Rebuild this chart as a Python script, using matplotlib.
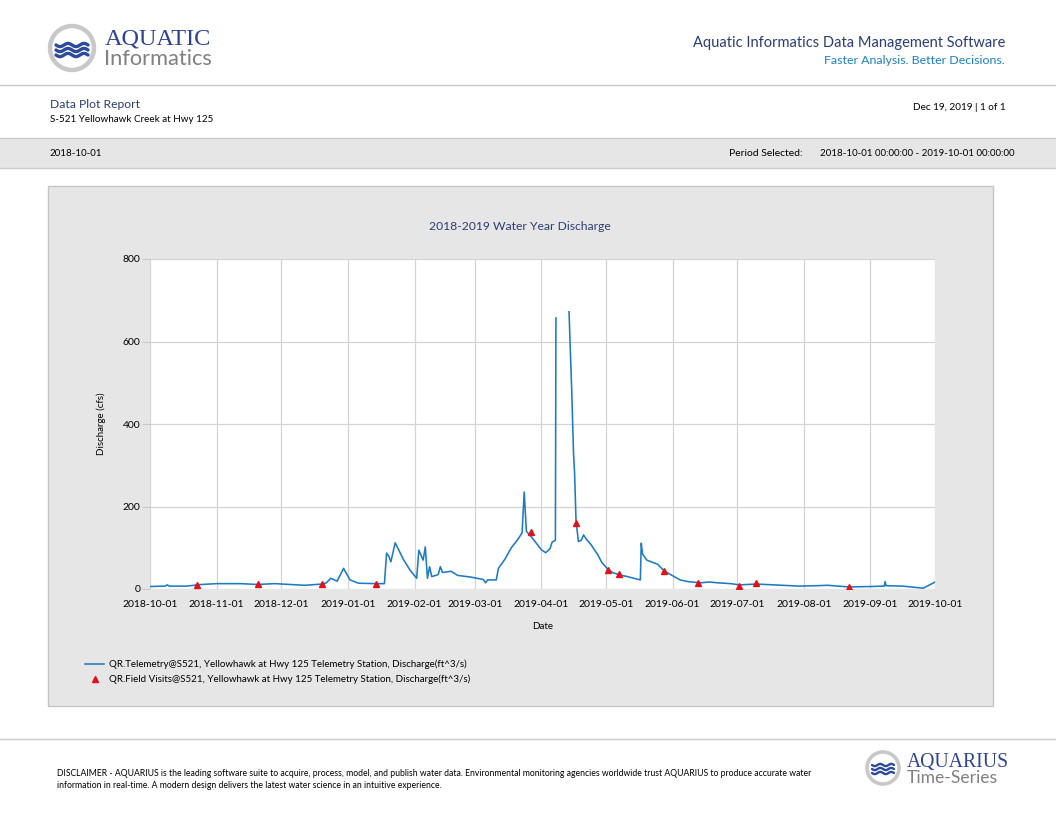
import numpy as np
import pandas as pd
import matplotlib
matplotlib.use('Agg')
import matplotlib.pyplot as plt
import matplotlib.dates as mdates
from matplotlib.patches import Rectangle, Circle

W, H = 1056, 816
SANS = 'Lato'
SERIF = 'Liberation Serif'
NAVY = '#2b3d73'

# QR.Telemetry discharge (cfs); None = gap in record
flow_time = ['2018-10-01', '2018-10-08', '2018-10-09', '2018-10-10', '2018-10-18',
             '2018-10-25', '2018-11-01', '2018-11-12', '2018-11-20', '2018-11-28',
             '2018-12-05', '2018-12-12', '2018-12-20', '2018-12-22', '2018-12-24',
             '2018-12-27', '2018-12-30', '2019-01-02', '2019-01-06', '2019-01-14',
             '2019-01-18', '2019-01-19', '2019-01-20', '2019-01-21', '2019-01-23',
             '2019-01-27', '2019-01-30', '2019-02-02', '2019-02-03', '2019-02-05',
             '2019-02-06', '2019-02-07', '2019-02-08', '2019-02-09', '2019-02-12',
             '2019-02-13', '2019-02-14', '2019-02-18', '2019-02-21', '2019-02-27',
             '2019-03-05', '2019-03-06', '2019-03-07', '2019-03-11', '2019-03-12',
             '2019-03-15', '2019-03-18', '2019-03-21', '2019-03-23', '2019-03-24',
             '2019-03-25', '2019-03-28', '2019-04-01', '2019-04-03', '2019-04-05',
             '2019-04-06', '2019-04-07 12:00', '2019-04-07 18:00', '2019-04-10',
             '2019-04-13 20:00', '2019-04-15 02:00', '2019-04-15 22:00', '2019-04-16 10:00',
             '2019-04-17 02:00', '2019-04-17 14:00', '2019-04-18 05:00', '2019-04-19 12:00',
             '2019-04-20 14:00', '2019-04-22', '2019-04-24', '2019-04-26', '2019-04-27',
             '2019-04-29', '2019-05-02', '2019-05-04', '2019-05-07 14:00', '2019-05-11',
             '2019-05-15 12:00', '2019-05-17', '2019-05-17 10:00', '2019-05-18', '2019-05-20',
             '2019-05-22', '2019-05-25', '2019-05-26', '2019-05-28', '2019-05-31',
             '2019-06-04 12:00', '2019-06-08', '2019-06-14', '2019-06-18', '2019-06-22',
             '2019-06-28', '2019-07-02', '2019-07-10', '2019-07-18', '2019-07-30',
             '2019-08-07', '2019-08-12', '2019-08-22', '2019-09-01', '2019-09-07 10:00',
             '2019-09-07 20:00', '2019-09-08 06:00', '2019-09-16', '2019-09-25 12:00',
             '2019-09-30', '2019-10-01']
flow_cfs = [6, 7, 10, 7, 7,
            11, 13, 13, 11, 13,
            11, 9, 12, 15, 26,
            19, 50, 22, 14, 13,
            13, 87, 80, 66, 112,
            70, 45, 26, 94, 70,
            102, 26, 54, 30, 35,
            54, 40, 43, 33, 29,
            23, 15, 22, 22, 50,
            72, 100, 120, 136, 235,
            140, 122, 95, 88, 98,
            114, 118, 657, None,
            672, 482, 330, 281,
            167, 143, 115, 118,
            131, 120, 108, 92, 85,
            65, 47, 40, 34, 30,
            24, 22, 111, 85, 70,
            66, 60, 55, 44, 35,
            22, 18, 15, 17, 15,
            13, 10, 12, 10, 7,
            8, 9, 5, 6, 7,
            18, 8, 7, 2,
            14, 17]

# QR.Field Visits measurements
visit_time = ['2018-10-23', '2018-11-20', '2018-12-20', '2019-01-14', '2019-03-27',
              '2019-04-17', '2019-05-02', '2019-05-07', '2019-05-28', '2019-06-13',
              '2019-07-02', '2019-07-10', '2019-08-22']
visit_cfs = [10, 11, 13, 12, 138, 160, 46, 36, 44, 15, 8, 14, 4]

yticks = [0, 200, 400, 600, 800]

fig = plt.figure(figsize=(W / 100, H / 100), dpi=100)
fig.patch.set_facecolor('white')

# overlay axes in pixel coordinates (y downwards) for the report decoration
deco = fig.add_axes([0, 0, 1, 1])
deco.set_xlim(0, W)
deco.set_ylim(H, 0)
deco.axis('off')

rend = fig.canvas.get_renderer()


def txt(x, y, s, size, color='black', ha='left', family=SANS, width=None, **kw):
    t = deco.text(x, y, s, fontsize=size, color=color, ha=ha, va='baseline',
                  family=family, **kw)
    if width:
        w = t.get_window_extent(rend).width
        t.set_fontsize(size * width / w)
    return t


# --- header
deco.add_patch(Circle((72, 48), 22, facecolor='white', edgecolor='#c8c8c8', lw=3.2))
for yc in [45, 50, 55]:
    xs = np.linspace(56, 88, 60)
    deco.plot(xs, yc + 1.6 * np.sin((xs - 56) / 32 * 4 * np.pi), color='#2c4a9a', lw=2.4,
              solid_capstyle='round')
txt(105, 45, 'AQUATIC', 17, color='#2f4395', family=SERIF, width=107)
txt(104, 65, 'Informatics', 13, color='#808080', width=108)
txt(1005, 47, 'Aquatic Informatics Data Management Software', 11, color=NAVY, ha='right', width=311)
txt(1005, 64, 'Faster Analysis. Better Decisions.', 8.5, color='#1e7fbf', ha='right', width=181)
deco.plot([0, W], [84.5, 84.5], color='#c8c8c8', lw=1)

txt(50, 108, 'Data Plot Report', 8.5, color=NAVY, width=90)
txt(50, 122, 'S-521 Yellowhawk Creek at Hwy 125', 7, width=164)
txt(1006, 110, 'Dec 19, 2019 | 1 of 1', 7, ha='right', width=94)

deco.add_patch(Rectangle((0, 138), W, 30, facecolor='#e6e6e6', edgecolor='none'))
deco.plot([0, W], [138, 138], color='#cccccc', lw=1)
deco.plot([0, W], [168, 168], color='#cccccc', lw=1)
txt(50, 156, '2018-10-01', 7, width=53)
txt(803, 156, 'Period Selected:', 7, ha='right', width=74)
txt(1015, 156, '2018-10-01 00:00:00 - 2019-10-01 00:00:00', 7, ha='right', width=196)

# --- chart panel
deco.add_patch(Rectangle((48, 186), 945, 520, facecolor='#e6e6e6', edgecolor='#c4c4c4', lw=1))
txt(520, 230, '2018-2019 Water Year Discharge', 8.5, color=NAVY, ha='center', width=181)

ax = fig.add_axes([150 / W, 1 - 589 / H, 785 / W, 330 / H])
ax.set_facecolor('white')
ft = pd.to_datetime(flow_time, format='mixed')
fv = np.array([np.nan if v is None else v for v in flow_cfs], dtype=float)
ax.plot(ft, fv, color='#1f7bc0', lw=1.15,
        label='QR.Telemetry@S521, Yellowhawk at Hwy 125 Telemetry Station, Discharge(ft^3/s)')
ax.plot(pd.to_datetime(visit_time), visit_cfs, ls='none', marker='^', ms=5, color='#e3101a',
        label='QR.Field Visits@S521, Yellowhawk at Hwy 125 Telemetry Station, Discharge(ft^3/s)')

ax.set_xlim(pd.Timestamp('2018-10-01'), pd.Timestamp('2019-10-01'))
ax.set_ylim(0, 800)
ax.set_yticks(yticks)
ax.xaxis.set_major_locator(mdates.MonthLocator())
ax.xaxis.set_major_formatter(mdates.DateFormatter('%Y-%m-%d'))
ax.grid(True, color='#d4d4d4', lw=0.9)
ax.set_axisbelow(True)
for s in ax.spines.values():
    s.set_visible(False)
ax.tick_params(axis='y', length=6, color='#c8c8c8', pad=1, labelsize=7.5)
ax.tick_params(axis='x', length=0, pad=8, labelsize=7.5)
for lab in ax.get_xticklabels() + ax.get_yticklabels():
    lab.set_family(SANS)
ax.set_ylabel('Discharge (cfs)', fontsize=7, family=SANS, labelpad=12)
ax.set_xlabel('Date', fontsize=7, family=SANS, labelpad=9)

ax.legend(loc='upper left', bbox_to_anchor=(80 / W, 1 - 655 / H), bbox_transform=fig.transFigure,
          frameon=False, prop={'family': SANS, 'size': 7}, handlelength=2.0, handletextpad=0.5,
          labelspacing=0.55, borderpad=0, markerscale=0.75)

# --- footer
deco.plot([0, W], [738.5, 738.5], color='#c8c8c8', lw=1)
d1 = txt(57, 776, 'DISCLAIMER - AQUARIUS is the leading software suite to acquire, process, model, and '
         'publish water data. Environmental monitoring agencies worldwide trust AQUARIUS to produce '
         'accurate water', 5.5, width=756)
txt(57, 788, 'information in real-time. A modern design delivers the latest water science in an '
    'intuitive experience.', d1.get_fontsize())
deco.add_patch(Circle((883, 768), 16, facecolor='white', edgecolor='#c8c8c8', lw=2.6))
for yc in [765, 769, 773]:
    xs = np.linspace(872, 894, 40)
    deco.plot(xs, yc + 1.1 * np.sin((xs - 872) / 22 * 4 * np.pi), color='#2c4a9a', lw=1.7,
              solid_capstyle='round')
txt(907, 767, 'AQUARIUS', 13, color='#2f4395', family=SERIF, width=102)
txt(907, 783, 'Time-Series', 11, color='#808080', width=91)

fig.savefig('out.png', dpi=100)
